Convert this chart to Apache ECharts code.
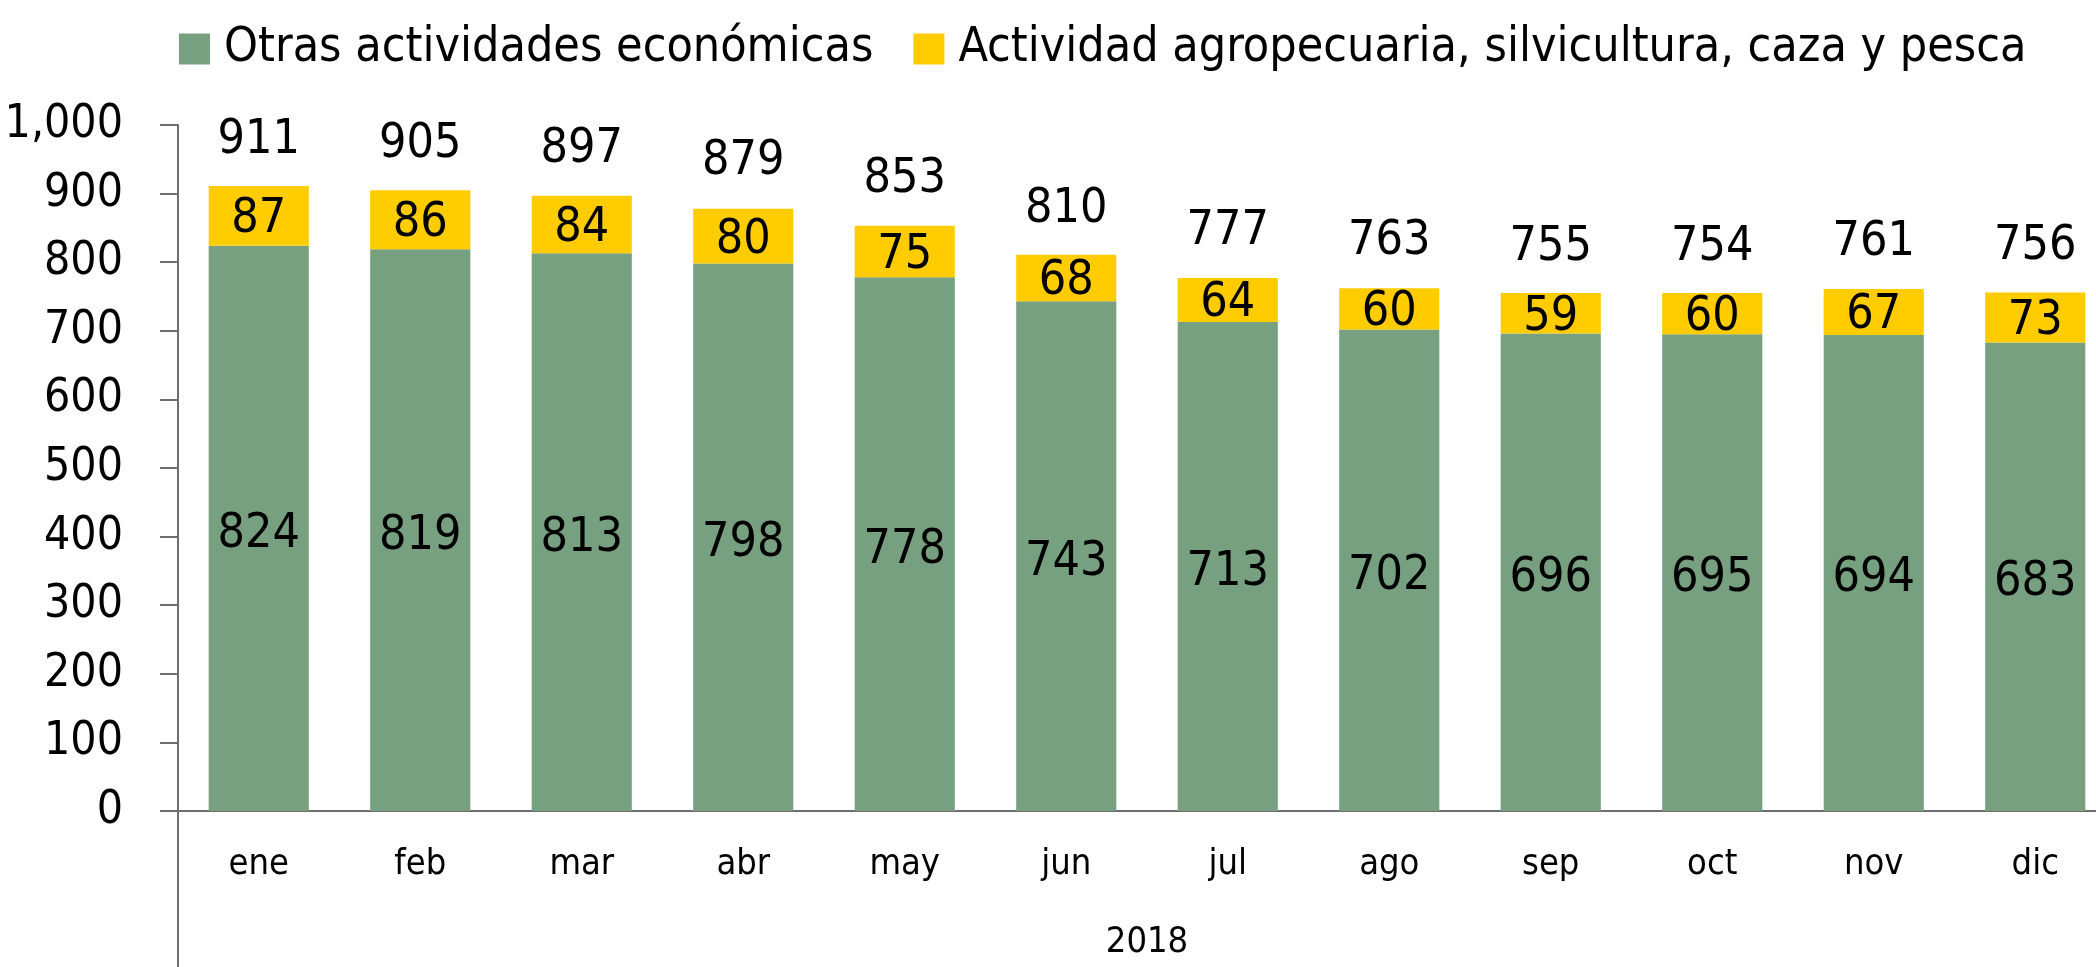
<!DOCTYPE html>
<html>
<head>
<meta charset="utf-8">
<script src="https://cdn.jsdelivr.net/npm/echarts@6.0.0/dist/echarts.min.js"></script>
<style>
  html, body { margin: 0; padding: 0; background: #fff; }
  #container { width: 2096px; height: 967px; }
</style>
</head>
<body>
<div id="container"></div>
<script>
var months = ['ene', 'feb', 'mar', 'abr', 'may', 'jun', 'jul', 'ago', 'sep', 'oct', 'nov', 'dic'];
var otras = [824, 819, 813, 798, 778, 743, 713, 702, 696, 695, 694, 683];
var agro = [87, 86, 84, 80, 75, 68, 64, 60, 59, 60, 67, 73];
var totales = [911, 905, 897, 879, 853, 810, 777, 763, 755, 754, 761, 756];
var years = ['2018'];

var FONT = "'Liberation Sans Narrow', 'DejaVu Sans Condensed', sans-serif";
var GREEN = '#76a07f';
var YELLOW = '#ffcc00';
var AXIS = '#6e6e6e';

var myChart = echarts.init(document.getElementById('container'));

var option = {
    animation: false,
    textStyle: { fontFamily: FONT, color: '#000' },
    legend: {
        left: 174,
        top: 20,
        width: 1900,
        itemWidth: 31,
        itemHeight: 31,
        itemGap: 40,
        icon: 'rect',
        data: ['Otras actividades económicas', 'Actividad agropecuaria, silvicultura, caza y pesca'],
        textStyle: { fontFamily: FONT, fontSize: 48, color: '#000', padding: [0, 0, 0, 9] }
    },
    grid: {
        left: 178,
        right: -20,
        top: 125,
        bottom: 156,
        containLabel: false,
        outerBoundsMode: 'none'
    },
    xAxis: [{
        type: 'category',
        data: months,
        axisLine: { lineStyle: { color: AXIS, width: 2 } },
        axisTick: { show: false },
        axisLabel: { fontFamily: FONT, fontSize: 36, color: '#000', margin: 36 }
    }, {
        type: 'category',
        data: years,
        position: 'bottom',
        axisLine: { show: false },
        axisTick: { show: true, length: 160, lineStyle: { color: AXIS, width: 2 } },
        axisLabel: { fontFamily: FONT, fontSize: 36, color: '#000', margin: 114 }
    }],
    yAxis: {
        type: 'value',
        min: 0,
        max: 1000,
        interval: 100,
        splitLine: { show: false },
        axisLine: { show: true, lineStyle: { color: AXIS, width: 2 } },
        axisTick: { show: true, length: 18, lineStyle: { color: AXIS, width: 2 } },
        axisLabel: {
            fontFamily: FONT, fontSize: 46, color: '#000', margin: 55,
            formatter: function (v) { return v.toLocaleString('en-US'); }
        }
    },
    series: [{
        name: 'Otras actividades económicas',
        type: 'bar',
        stack: 'total',
        data: otras,
        itemStyle: { color: GREEN },
        label: { show: true, position: 'inside', offset: [0, 6], fontFamily: FONT, fontSize: 48, color: '#000' }
    }, {
        name: 'Actividad agropecuaria, silvicultura, caza y pesca',
        type: 'bar',
        stack: 'total',
        data: agro,
        itemStyle: { color: YELLOW },
        label: { show: true, position: 'inside', offset: [0, 4], fontFamily: FONT, fontSize: 48, color: '#000' }
    }, {
        name: 'Total',
        type: 'bar',
        data: totales,
        barGap: '-100%',
        barCategoryGap: '38%',
        z: 1,
        silent: true,
        itemStyle: { color: 'rgba(255,255,255,0)' },
        label: { show: true, position: 'top', distance: 22, fontFamily: FONT, fontSize: 48, color: '#000' }
    }]
};

myChart.setOption(option);
</script>
</body>
</html>
